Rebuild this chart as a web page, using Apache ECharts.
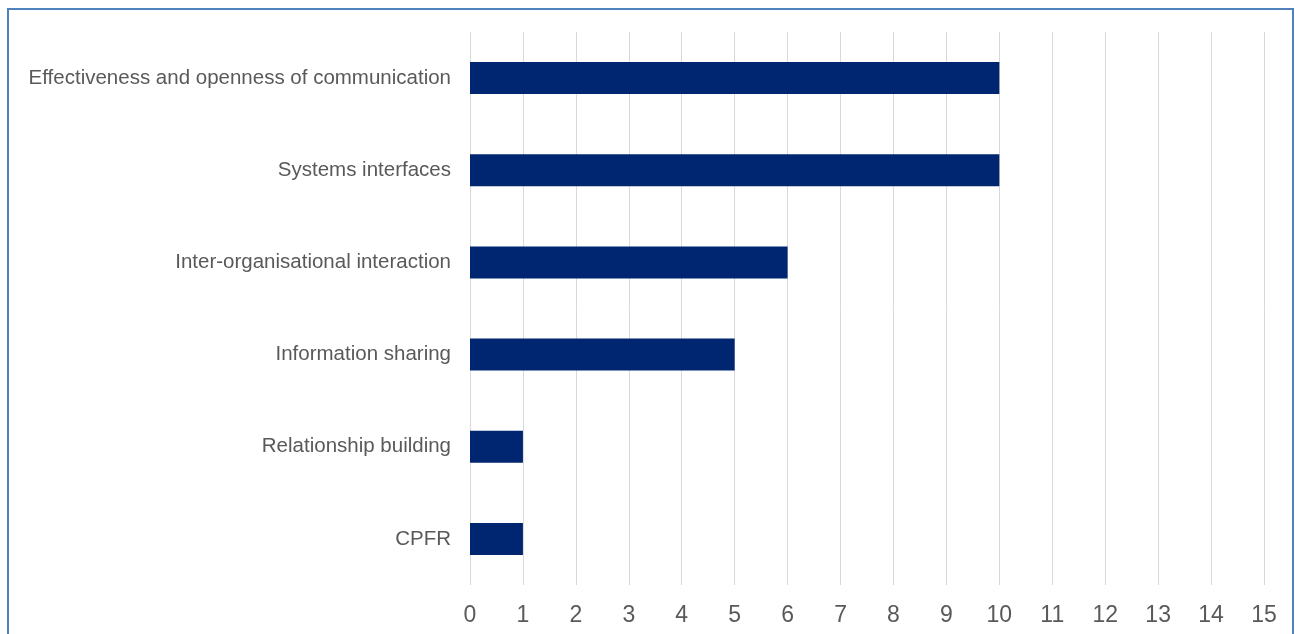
<!DOCTYPE html>
<html>
<head>
<meta charset="utf-8">
<script src="https://cdn.jsdelivr.net/npm/echarts@6/dist/echarts.min.js"></script>
<style>
  html, body { margin: 0; padding: 0; background: #fff; }
  #chart { width: 1295px; height: 634px; }
</style>
</head>
<body>
<div id="chart"></div>
<script>
// categories listed top to bottom
const categories = [
  'Effectiveness and openness of communication',
  'Systems interfaces',
  'Inter-organisational interaction',
  'Information sharing',
  'Relationship building',
  'CPFR'
]
const counts = [10, 10, 6, 5, 1, 1]

const chart = echarts.init(document.getElementById('chart'))
chart.setOption({
  backgroundColor: '#fff',
  animation: false,
  graphic: [{
    type: 'rect',
    shape: { x: 8, y: 9, width: 1285, height: 640 },
    style: { fill: 'none', stroke: '#4f81bd', lineWidth: 2 },
    silent: true
  }],
  grid: { left: 470, right: 31, top: 32, bottom: 49 },
  xAxis: {
    type: 'value',
    min: 0,
    max: 15,
    interval: 1,
    axisLine: { show: false },
    axisTick: { show: false },
    splitLine: { lineStyle: { color: '#d9d9d9', width: 1 } },
    axisLabel: {
      color: '#595959',
      fontFamily: 'Liberation Sans, Arial, sans-serif',
      fontSize: 23,
      margin: 19
    }
  },
  yAxis: {
    type: 'category',
    data: categories,
    inverse: true,
    axisLine: { show: false },
    axisTick: { show: false },
    splitLine: { show: false },
    axisLabel: {
      color: '#595959',
      fontFamily: 'Liberation Sans, Arial, sans-serif',
      fontSize: 20.5,
      margin: 19
    }
  },
  series: [{
    type: 'bar',
    data: counts,
    barWidth: 32,
    itemStyle: { color: '#002671' }
  }]
})
</script>
</body>
</html>
